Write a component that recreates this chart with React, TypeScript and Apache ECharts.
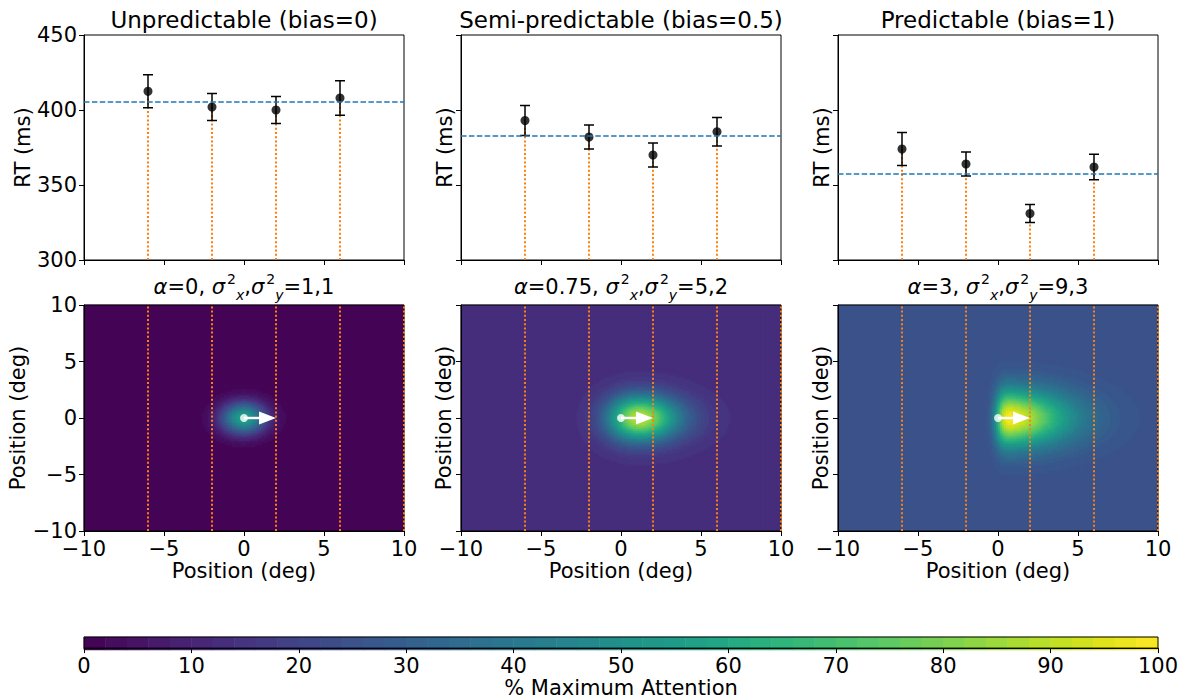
import React, { useEffect, useRef } from "react";
import * as echarts from "echarts";

const FONT = "DejaVu Sans";

// ---- Reaction-time panels (top row) ----
const rtTitles = ["Unpredictable (bias=0)", "Semi-predictable (bias=0.5)", "Predictable (bias=1)"];
const targetX = [-6, -2, 2, 6];
const rtMeanUnpredictable = [412.5, 402, 400, 408];
const rtMeanSemi = [393, 382, 370, 385.5];
const rtMeanPredictable = [374, 364, 331, 362];
const rtErrUnpredictable = [11, 9, 9, 11.5];
const rtErrSemi = [10, 8, 8, 9.5];
const rtErrPredictable = [11, 8, 6, 8.5];
const rtTicks = [300, 350, 400, 450];

const rtMeans = [rtMeanUnpredictable, rtMeanSemi, rtMeanPredictable];
const rtErrs = [rtErrUnpredictable, rtErrSemi, rtErrPredictable];

// ---- Attention model panels (bottom row) ----
const modelAlphaText = ["0", "0.75", "3"];
const modelAlpha = [0, 0.75, 3];
const modelVarX = [1, 5, 9];
const modelVarY = [1, 2, 3];
const modelFloor = [0, 13, 25]; // % of maximum attention away from the cue
const modelPeak = [57, 90, 100]; // % of maximum attention at the peak
const cueLineX = [-6, -2, 2, 6, 10];
const cueArrow = [0, 0, 2, 0]; // x0, y0, x1, y1
const posTicks = [-10, -5, 0, 5, 10];

// ---- Colour bar ----
const cbarTicks = [0, 10, 20, 30, 40, 50, 60, 70, 80, 90, 100];
const CBAR_BAND = 2;

const VIRIDIS = [
  "#440154", "#471365", "#482475", "#463480", "#414487", "#3b528b", "#355f8d",
  "#2f6c8e", "#2a788e", "#25848e", "#21918c", "#1e9c89", "#22a884", "#2fb47c",
  "#44bf70", "#5ec962", "#7ad151", "#9bd93c", "#bddf26", "#dfe318", "#fde725",
];

// cell grid of the attention maps (2 x 2 px cells)
const NX = 160;
const NY = 113;

const RT_MIN = rtTicks[0];
const RT_MAX = rtTicks[rtTicks.length - 1];
const POS_MIN = posTicks[0];
const POS_MAX = posTicks[posTicks.length - 1];
const CB_MIN = cbarTicks[0];
const CB_MAX = cbarTicks[cbarTicks.length - 1];

function erf(v: number) {
  const s = v < 0 ? -1 : 1;
  const x = Math.abs(v);
  const t = 1 / (1 + 0.3275911 * x);
  const y =
    1 -
    ((((1.061405429 * t - 1.453152027) * t + 1.421413741) * t - 0.284496736) * t + 0.254829592) *
      t *
      Math.exp(-x * x);
  return s * y;
}
const gauss = (z: number) => Math.exp(-0.5 * z * z);
const normCdf = (z: number) => 0.5 * (1 + erf(z / Math.SQRT2));

// Skewed Gaussian attention field, banded in CBAR_BAND % steps like a filled contour
function attentionCells(k: number) {
  const sx = Math.sqrt(modelVarX[k]);
  const sy = Math.sqrt(modelVarY[k]);
  const raw: number[][] = [];
  let gmax = 0;
  for (let i = 0; i < NX; i++) {
    const x = POS_MIN + ((i + 0.5) * (POS_MAX - POS_MIN)) / NX;
    for (let j = 0; j < NY; j++) {
      const y = POS_MIN + ((j + 0.5) * (POS_MAX - POS_MIN)) / NY;
      const g = gauss(x / sx) * normCdf(modelAlpha[k] * x) * gauss(y / sy);
      raw.push([i, j, g]);
      if (g > gmax) gmax = g;
    }
  }
  const lo = modelFloor[k];
  const hi = modelPeak[k];
  const nBands = (CB_MAX - CB_MIN) / CBAR_BAND;
  return raw.map(([i, j, g]) => {
    const v = lo + ((hi - lo) * g) / gmax;
    const band = Math.min(Math.floor(v / CBAR_BAND), nBands - 1);
    return [i, j, band * CBAR_BAND + CBAR_BAND / 2];
  });
}

const fmtTick = (v: number) => (v < 0 ? "\u2212" + Math.abs(v) : String(v));

const COL_LEFT = [84, 461, 838];
const PANEL_W = 320;
const TICK_FONT = 21;

const axisText = { fontFamily: FONT, fontSize: TICK_FONT, color: "#000" };
const axisLine = { show: true, onZero: false, lineStyle: { color: "#000", width: 1 } };
const axisTick = { show: true, inside: false, length: 5, lineStyle: { color: "#000", width: 1 } };
const orangeDots = { stroke: "#ff7f0e", lineWidth: 2, lineDash: [2, 2.2] };

function buildOption() {
  const grid: any[] = [];
  const xAxis: any[] = [];
  const yAxis: any[] = [];
  const series: any[] = [];
  const title: any[] = [];
  const heatmapIdx: number[] = [];

  // Top row: reaction times
  for (let c = 0; c < 3; c++) {
    grid.push({
      left: COL_LEFT[c], top: 35, width: PANEL_W, height: 225,
      show: true, borderColor: "#000", borderWidth: 1, backgroundColor: "transparent",
    });
    xAxis.push({
      type: "value", gridIndex: c, min: POS_MIN, max: POS_MAX, interval: 5,
      axisLine, axisTick, axisLabel: { show: false }, splitLine: { show: false },
    });
    yAxis.push({
      type: "value", gridIndex: c, min: RT_MIN, max: RT_MAX, interval: 50,
      axisLine, axisTick, splitLine: { show: false },
      axisLabel: { show: c === 0, margin: 7, ...axisText },
      name: "RT (ms)", nameLocation: "middle", nameGap: c === 0 ? 46 : 6,
      nameTextStyle: { ...axisText },
    });
    const means = rtMeans[c];
    const errs = rtErrs[c];
    const grand = means.reduce((a, b) => a + b, 0) / means.length;

    series.push({
      type: "custom", xAxisIndex: c, yAxisIndex: c, z: 2, silent: true,
      data: targetX.map((x, i) => [x, means[i]]),
      renderItem: (_p: any, api: any) => {
        const a = api.coord([api.value(0), RT_MIN]);
        const b = api.coord([api.value(0), api.value(1)]);
        return {
          type: "line",
          shape: { x1: a[0], y1: a[1], x2: b[0], y2: b[1] },
          style: orangeDots,
        };
      },
    });
    series.push({
      type: "custom", xAxisIndex: c, yAxisIndex: c, z: 3, silent: true,
      data: targetX.map((x, i) => [x, means[i], errs[i]]),
      renderItem: (_p: any, api: any) => {
        const x = api.value(0);
        const m = api.value(1);
        const e = api.value(2);
        const t = api.coord([x, m + e]);
        const b = api.coord([x, m - e]);
        const cap = 5;
        const st = { stroke: "#000", lineWidth: 1.5 };
        return {
          type: "group",
          children: [
            { type: "line", shape: { x1: t[0], y1: t[1], x2: b[0], y2: b[1] }, style: st },
            { type: "line", shape: { x1: t[0] - cap, y1: t[1], x2: t[0] + cap, y2: t[1] }, style: st },
            { type: "line", shape: { x1: b[0] - cap, y1: b[1], x2: b[0] + cap, y2: b[1] }, style: st },
          ],
        };
      },
    });
    series.push({
      type: "scatter", xAxisIndex: c, yAxisIndex: c, z: 4, silent: true,
      symbol: "circle", symbolSize: 9, itemStyle: { color: "#000" },
      data: targetX.map((x, i) => [x, means[i]]),
      markLine: {
        silent: true, symbol: "none", label: { show: false },
        lineStyle: { color: "#1f77b4", width: 1.5, type: [5.5, 2.4] },
        data: [{ yAxis: grand }],
      },
    });
    title.push({
      text: rtTitles[c], left: COL_LEFT[c] + PANEL_W / 2, top: 7, textAlign: "center", padding: 0,
      textStyle: { fontFamily: FONT, fontSize: 23, fontWeight: "normal", color: "#000", lineHeight: 26 },
    });
  }

  // Bottom row: heatmap grids (3..5) and overlay grids (6..8)
  const catX = Array.from({ length: NX }, (_, i) => String(i));
  const catY = Array.from({ length: NY }, (_, i) => String(i));
  for (let c = 0; c < 3; c++) {
    grid.push({ left: COL_LEFT[c], top: 305, width: PANEL_W, height: 226 });
    xAxis.push({ type: "category", gridIndex: 3 + c, data: catX, show: false });
    yAxis.push({ type: "category", gridIndex: 3 + c, data: catY, show: false });
    heatmapIdx.push(series.length);
    series.push({
      type: "heatmap", xAxisIndex: 3 + c, yAxisIndex: 3 + c, silent: true,
      progressive: 0, progressiveThreshold: 1e7,
      data: attentionCells(c),
    });
  }
  for (let c = 0; c < 3; c++) {
    const gi = 6 + c;
    grid.push({
      left: COL_LEFT[c], top: 305, width: PANEL_W, height: 226, z: 10,
      show: true, borderColor: "#000", borderWidth: 1, backgroundColor: "transparent",
    });
    xAxis.push({
      type: "value", gridIndex: gi, min: POS_MIN, max: POS_MAX, interval: 5, z: 10,
      axisLine, axisTick, splitLine: { show: false },
      axisLabel: { show: true, margin: 7, formatter: fmtTick, ...axisText },
      name: "Position (deg)", nameLocation: "middle", nameGap: 29, nameTextStyle: { ...axisText },
    });
    yAxis.push({
      type: "value", gridIndex: gi, min: POS_MIN, max: POS_MAX, interval: 5, z: 10,
      axisLine, axisTick, splitLine: { show: false },
      axisLabel: { show: c === 0, margin: 7, formatter: fmtTick, ...axisText },
      name: "Position (deg)", nameLocation: "middle", nameGap: c === 0 ? 51 : 7,
      nameTextStyle: { ...axisText },
    });
    series.push({
      type: "custom", xAxisIndex: gi, yAxisIndex: gi, z: 12, silent: true,
      data: cueLineX.map((x) => [x, 0]),
      renderItem: (_p: any, api: any) => {
        const a = api.coord([api.value(0), POS_MIN]);
        const b = api.coord([api.value(0), POS_MAX]);
        return {
          type: "line",
          shape: { x1: a[0], y1: a[1], x2: b[0], y2: b[1] },
          style: orangeDots,
        };
      },
    });
    series.push({
      type: "custom", xAxisIndex: gi, yAxisIndex: gi, z: 13, silent: true,
      data: [cueArrow],
      renderItem: (_p: any, api: any) => {
        const p0 = api.coord([api.value(0), api.value(1)]);
        const p1 = api.coord([api.value(2), api.value(3)]);
        const headLen = 17;
        const headHalf = 6.5;
        return {
          type: "group",
          children: [
            {
              type: "line",
              shape: { x1: p0[0], y1: p0[1], x2: p1[0] - headLen + 1, y2: p1[1] },
              style: { stroke: "#fff", lineWidth: 2.4 },
            },
            {
              type: "polygon",
              shape: {
                points: [
                  [p1[0] - headLen, p1[1] - headHalf],
                  [p1[0], p1[1]],
                  [p1[0] - headLen, p1[1] + headHalf],
                ],
              },
              style: { fill: "#fff" },
            },
          ],
        };
      },
    });
    series.push({
      type: "scatter", xAxisIndex: gi, yAxisIndex: gi, z: 14, silent: true,
      symbol: "circle", symbolSize: 8, itemStyle: { color: "#fff" },
      data: [[cueArrow[0], cueArrow[1]]],
    });

    title.push({
      text:
        "{i|α}{n|=" + modelAlphaText[c] + ", }{i|σ}{sup|2}{sub|x}{n|,}{i|σ}{sup|2}{sub|y}{n|=" +
        modelVarX[c] + "," + modelVarY[c] + "}",
      left: COL_LEFT[c] + PANEL_W / 2, top: 272, textAlign: "center", padding: 0,
      textStyle: {
        fontFamily: FONT, fontSize: 21, fontWeight: "normal", color: "#000",
        rich: {
          n: { fontFamily: FONT, fontSize: 21, color: "#000", lineHeight: 30, verticalAlign: "middle" },
          i: { fontFamily: FONT, fontSize: 21, color: "#000", fontStyle: "italic", lineHeight: 30, verticalAlign: "middle" },
          sup: { fontFamily: FONT, fontSize: 14, color: "#000", lineHeight: 14, verticalAlign: "top", padding: [0, 0, 0, 2] },
          sub: { fontFamily: FONT, fontSize: 14, color: "#000", fontStyle: "italic", lineHeight: 14, verticalAlign: "bottom" },
        },
      },
    });
  }

  // Colour bar: heatmap grid (9) and overlay axis grid (10)
  const nBands = (CB_MAX - CB_MIN) / CBAR_BAND;
  grid.push({ left: 84, top: 637, width: 1074, height: 13 });
  xAxis.push({
    type: "category", gridIndex: 9, show: false,
    data: Array.from({ length: nBands }, (_, i) => String(i)),
  });
  yAxis.push({ type: "category", gridIndex: 9, show: false, data: ["0"] });
  heatmapIdx.push(series.length);
  series.push({
    type: "heatmap", xAxisIndex: 9, yAxisIndex: 9, silent: true, progressive: 0,
    data: Array.from({ length: nBands }, (_, i) => [i, 0, CB_MIN + i * CBAR_BAND + CBAR_BAND / 2]),
  });
  grid.push({
    left: 84, top: 637, width: 1074, height: 13, z: 10,
    show: true, borderColor: "#000", borderWidth: 1, backgroundColor: "transparent",
  });
  xAxis.push({
    type: "value", gridIndex: 10, min: CB_MIN, max: CB_MAX, interval: 10, z: 10,
    axisLine, axisTick, splitLine: { show: false },
    axisLabel: { show: true, margin: 7, ...axisText },
    name: "% Maximum Attention", nameLocation: "middle", nameGap: 28, nameTextStyle: { ...axisText },
  });
  yAxis.push({ type: "value", gridIndex: 10, min: 0, max: 1, show: false });

  return {
    animation: false,
    backgroundColor: "#fff",
    textStyle: { fontFamily: FONT },
    title,
    grid,
    xAxis,
    yAxis,
    visualMap: {
      type: "continuous", show: false, min: CB_MIN, max: CB_MAX,
      seriesIndex: heatmapIdx, inRange: { color: VIRIDIS },
    },
    series,
  };
}

export default function App() {
  const ref = useRef<HTMLDivElement>(null);
  useEffect(() => {
    if (!ref.current) return;
    const chart = echarts.init(ref.current, null, { renderer: "svg" });
    chart.setOption(buildOption() as any);
    return () => chart.dispose();
  }, []);
  return (
    <div
      ref={ref}
      style={{ position: "fixed", left: 0, top: 0, width: 1186, height: 699, background: "#fff" }}
    />
  );
}
